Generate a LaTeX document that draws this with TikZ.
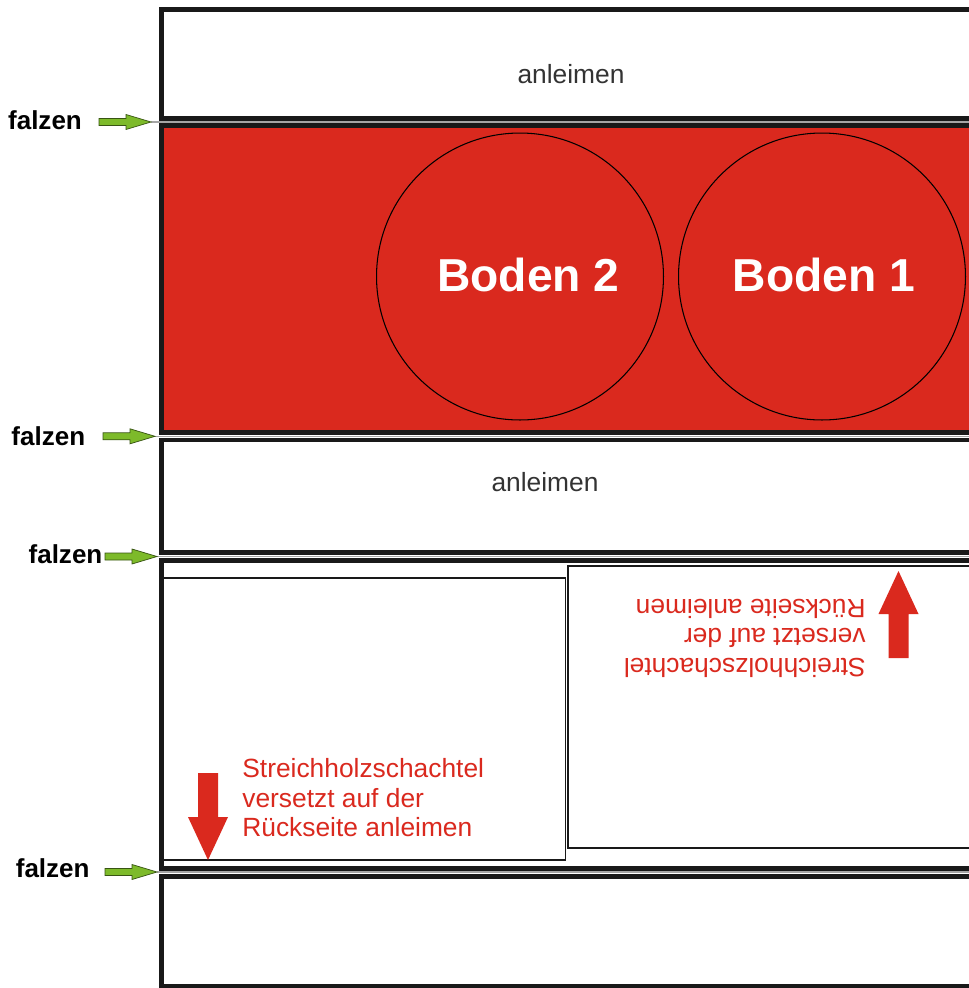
\documentclass[tikz,border=0pt]{standalone}
\usepackage{fontspec}
\setmainfont{Liberation Sans}
\usetikzlibrary{positioning, calc}
\definecolor{boxred}{RGB}{218,41,30}
\definecolor{foldgreen}{RGB}{125,186,42}
\definecolor{foldgray}{RGB}{165,165,165}
\definecolor{textgray}{RGB}{51,51,51}

\tikzset{
  panel/.style={draw=black!90, line width=2.55pt, fill=white},
  innerbox/.style={draw=black!90, line width=1.1pt},
  foldline/.style={draw=foldgray, line width=0.6pt},
  foldarrow/.style={fill=foldgreen, draw=black!55!foldgreen, line width=0.4pt},
  gluearrow/.style={fill=boxred},
  falz/.style={font=\fontsize{14.8}{17}\selectfont\bfseries, inner sep=0pt},
  glue/.style={font=\fontsize{15}{17}\selectfont, text=textgray, inner sep=0pt},
  note/.style={font=\fontsize{15}{16.9}\selectfont, text=boxred, align=left, inner sep=0pt},
  bodenkreis/.style={circle, draw, line width=0.6pt, minimum size=5.74cm, inner sep=0pt},
  boden/.style={font=\fontsize{26.3}{30}\selectfont\bfseries, text=white, inner sep=0pt}
}

% green fold arrow, tip at the given coordinate
\newcommand{\falzpfeil}[1]{%
  \draw[foldarrow, shift={(#1)}] (0,0) -- (-25,-7.5) -- (-25,-3.5) -- (-52,-3.5)
    -- (-52,3.5) -- (-25,3.5) -- (-25,7.5) -- cycle;}
% red block arrow, tip at #1, turned by #2
\newcommand{\klebpfeil}[2]{%
  \fill[gluearrow, shift={(#1)}, rotate=#2] (0,0) -- (-20,-43) -- (-10,-43) -- (-10,-87)
    -- (10,-87) -- (10,-43) -- (20,-43) -- cycle;}

\begin{document}
\begin{tikzpicture}[x=0.02cm, y=-0.02cm]
  \useasboundingbox (0,0) rectangle (969,988);
  \clip (0,0) rectangle (969,988);

  % panels
  \draw[panel] (161.5,9.5) rectangle (1000,118.5);
  \draw[panel, fill=boxred] (161.5,125.5) rectangle (1000,432.5);
  \draw[panel] (161.5,440) rectangle (1000,552.5);
  \draw[panel] (161.5,560.5) rectangle (1000,868.5);
  \draw[panel] (161.5,876.5) rectangle (1000,986);

  % match boxes
  \draw[innerbox] (163,578) rectangle (565.5,860);
  \draw[innerbox] (568,566) rectangle (1000,848);

  % fold lines
  \coordinate (f1) at (151,122);
  \coordinate (f2) at (155,436.3);
  \coordinate (f3) at (157,556.5);
  \coordinate (f4) at (157,872);
  \foreach \f in {f1,f2,f3,f4}
    \draw[foldline] (\f) -- ++(850,0);

  \foreach \f in {f1,f2,f3,f4} {\falzpfeil{\f}}

  \node[falz] (falz1) at (45,119.7) {falzen};
  \node[falz] (falz2) at (48.3,435.8) {falzen};
  \node[falz] (falz3) at (65.5,554.2) {falzen};
  \node[falz] (falz4) at (52.7,868) {falzen};

  \node[glue] (glue1) at (571,74) {anleimen};
  \node[glue] (glue2) at (545,482) {anleimen};

  % bottoms
  \node[bodenkreis] (kreis2) at (520,276.5) {};
  \node[bodenkreis] (kreis1) at (822,276.5) {};
  \node[boden] (boden2) at (528.5,275) {Boden 2};
  \node[boden] (boden1) at (824,275) {Boden 1};

  % notes
  \klebpfeil{208,860}{0}
  \klebpfeil{898.5,571}{180}
  \node[note, anchor=north west] (note1) at (242,758)
    {Streichholzschachtel\\versetzt auf der\\Rückseite anleimen};
  \node[note, anchor=north west, rotate=180] (note2) at (866,678)
    {Streichholzschachtel\\versetzt auf der\\Rückseite anleimen};
\end{tikzpicture}
\end{document}
